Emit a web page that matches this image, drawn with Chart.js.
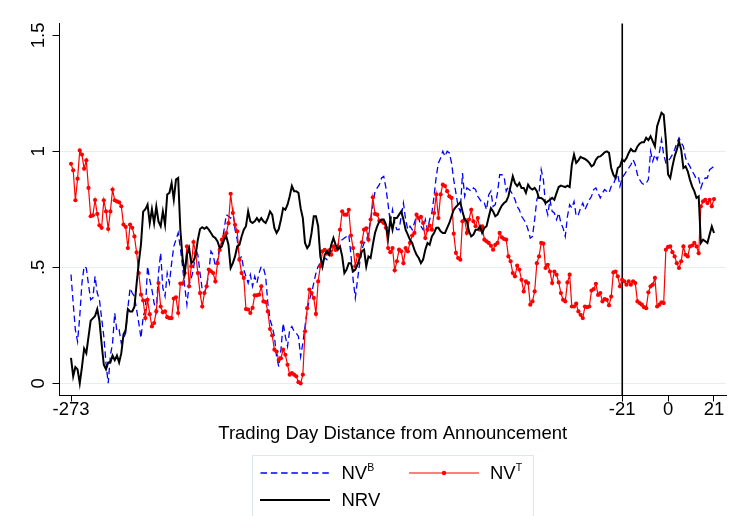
<!DOCTYPE html>
<html>
<head>
<meta charset="utf-8">
<script src="https://cdn.jsdelivr.net/npm/chart.js@4.4.1/dist/chart.umd.min.js"></script>
<style>
  html, body { margin: 0; padding: 0; background: #fff; }
  #wrap { position: relative; width: 738px; height: 516px; overflow: hidden; background: #fff; }
  #chart { position: absolute; left: 0; top: 0; }
  .legendBox { position: absolute; left: 252px; top: 455px; width: 282px; height: 80px; border: 1px solid #dce8ea; box-sizing: border-box; }
  .key { position: absolute; }
  .label { position: absolute; font-family: "Liberation Sans", Arial, sans-serif; font-size: 18.5px; line-height: 18.5px; color: #000; white-space: nowrap; }
  .label sup { font-size: 10.5px; vertical-align: 8px; line-height: 0; }
</style>
</head>
<body>
<div id="wrap">
  <canvas id="chart" width="738" height="516"></canvas>
  <div class="legendBox"></div>
  <svg class="key" style="left:260px;top:468px" width="71" height="10"><line x1="0.5" y1="5" x2="70" y2="5" stroke="#0000ff" stroke-width="1.3" stroke-dasharray="6.5 3.8"/></svg>
  <div class="label" style="left:341.5px;top:464px">NV<sup>B</sup></div>
  <svg class="key" style="left:409px;top:468px" width="71" height="10"><line x1="0" y1="5" x2="70" y2="5" stroke="#ff0000" stroke-width="1.2"/><circle cx="35" cy="5" r="2.2" fill="#ff0000"/></svg>
  <div class="label" style="left:490px;top:464px">NV<sup>T</sup></div>
  <svg class="key" style="left:260px;top:494.5px" width="71" height="10"><line x1="0" y1="5" x2="70" y2="5" stroke="#000" stroke-width="2"/></svg>
  <div class="label" style="left:341.5px;top:490.5px">NRV</div>
</div>
<script>
// trading days run from -273 to 21, one value per day
const firstDay = -273
const announcementDay = -21

const nvbValues = [
    0.469, 0.345, 0.23, 0.18, 0.288, 0.432, 0.504, 0.497, 0.425, 0.36,
    0.368, 0.461, 0.389, 0.36, 0.281, 0.202, 0.087, 0.0, 0.12, 0.173,
    0.303, 0.224, 0.23, 0.173, 0.195, 0.216, 0.324, 0.41, 0.389, 0.375,
    0.317, 0.259, 0.195, 0.288, 0.317, 0.504, 0.446, 0.404, 0.345, 0.31,
    0.475, 0.562,
    0.41, 0.375, 0.475, 0.432, 0.518, 0.59, 0.619, 0.648, 0.583, 0.504,
    0.418, 0.339, 0.425, 0.454, 0.49, 0.576, 0.554, 0.475, 0.404, 0.389,
    0.418, 0.475, 0.569, 0.554, 0.504, 0.533, 0.59, 0.605, 0.662, 0.727,
    0.72, 0.712, 0.748, 0.662, 0.619, 0.533, 0.547, 0.49, 0.461, 0.432,
    0.468, 0.418, 0.461,
    0.432, 0.475, 0.504, 0.497, 0.461, 0.345, 0.274, 0.245, 0.202, 0.115,
    0.072, 0.145, 0.259, 0.202, 0.159, 0.231, 0.245, 0.224, 0.216, 0.202,
    0.115, 0.173, 0.245, 0.317, 0.36, 0.389, 0.432, 0.475, 0.504, 0.518,
    0.526, 0.54, 0.533, 0.562, 0.569, 0.583, 0.59, 0.597, 0.612, 0.619,
    0.626, 0.633, 0.641,
    0.554, 0.446, 0.368, 0.446, 0.518, 0.576, 0.605, 0.612, 0.648, 0.706,
    0.763, 0.828, 0.842, 0.856, 0.885, 0.892, 0.842, 0.77, 0.691, 0.748,
    0.691, 0.662, 0.662, 0.72, 0.777, 0.706, 0.662, 0.677, 0.662, 0.691,
    0.72, 0.712, 0.677, 0.662, 0.706, 0.662, 0.706, 0.734, 0.806, 0.892,
    0.95, 0.971, 1.0,
    0.978, 1.0, 0.993, 0.949, 0.877, 0.82, 0.762, 0.741, 0.906, 0.806,
    0.842, 0.835, 0.828, 0.842, 0.835, 0.806, 0.792, 0.777, 0.777, 0.748,
    0.813, 0.828, 0.762, 0.77, 0.82, 0.899, 0.899, 0.892, 0.828, 0.85,
    0.828, 0.813, 0.792, 0.762, 0.748, 0.72, 0.706, 0.691, 0.662, 0.626,
    0.633, 0.706, 0.792, 0.82,
    0.921, 0.878, 0.763, 0.727, 0.791, 0.741, 0.734, 0.705, 0.734, 0.691,
    0.669, 0.633, 0.72, 0.77, 0.756, 0.784, 0.72, 0.727, 0.756, 0.777,
    0.748, 0.77, 0.791, 0.806, 0.835, 0.842, 0.82, 0.799, 0.82, 0.835,
    0.827, 0.82, 0.849, 0.856, 0.885, 0.899, 0.849, 0.885, 0.899, 0.914,
    0.928, 0.942, 0.964,
    0.942, 0.899, 0.878, 0.863, 0.856, 0.863, 0.878, 1.0, 0.957, 0.986,
    0.964, 0.993, 1.05, 0.986, 0.95, 0.957, 0.971, 0.986, 1.007, 1.036,
    1.058, 1.036, 1.021, 0.971, 0.95, 0.935, 0.914, 0.899, 0.878, 0.885,
    0.842, 0.87, 0.885, 0.885, 0.921, 0.928, 0.935
]

const nvtValues = [
    0.946, 0.918, 0.789, 0.882, 1.004, 0.986, 0.925, 0.961, 0.842, 0.72,
    0.724, 0.79, 0.73, 0.681, 0.67, 0.789, 0.741, 0.665, 0.741, 0.835,
    0.789, 0.784, 0.78, 0.763, 0.684, 0.674, 0.583, 0.684, 0.67, 0.633,
    0.564, 0.475, 0.382, 0.357, 0.281, 0.36, 0.298, 0.245, 0.26, 0.31,
    0.432,
    0.331, 0.306, 0.31, 0.285, 0.281, 0.281, 0.365, 0.371, 0.303, 0.43,
    0.43, 0.475, 0.59, 0.418, 0.504, 0.609, 0.561, 0.475, 0.389, 0.331,
    0.389, 0.418, 0.49, 0.483, 0.475, 0.439, 0.518, 0.575, 0.619, 0.633,
    0.647, 0.69, 0.817, 0.734, 0.683, 0.655, 0.533, 0.475, 0.454, 0.32,
    0.318, 0.303, 0.325,
    0.379, 0.379, 0.382, 0.418, 0.353, 0.35, 0.31, 0.234, 0.206, 0.145,
    0.137, 0.101, 0.108, 0.145, 0.123, 0.08, 0.037, 0.044, 0.037, 0.03,
    0.005, 0.0, 0.037, 0.224, 0.324, 0.404, 0.389, 0.368, 0.299, 0.439,
    0.504, 0.569, 0.575, 0.559, 0.573, 0.554, 0.59, 0.575, 0.588, 0.662,
    0.741, 0.727, 0.727, 0.748,
    0.637, 0.583, 0.504, 0.554, 0.547, 0.608, 0.662, 0.668, 0.619, 0.706,
    0.802, 0.73, 0.727, 0.701, 0.698, 0.691, 0.67, 0.583, 0.565, 0.583,
    0.487, 0.526, 0.576, 0.569, 0.518, 0.583, 0.569, 0.605, 0.637, 0.648,
    0.727, 0.712, 0.717, 0.691, 0.626, 0.662, 0.68, 0.662, 0.734, 0.814,
    0.712, 0.814, 0.856,
    0.85, 0.828, 0.806, 0.799, 0.645, 0.562, 0.54, 0.533, 0.698, 0.706,
    0.648, 0.706, 0.748, 0.698, 0.677, 0.712, 0.662, 0.677, 0.619, 0.612,
    0.605, 0.593, 0.576, 0.597, 0.605, 0.648, 0.629, 0.622, 0.619, 0.547,
    0.526, 0.475, 0.461, 0.507, 0.49, 0.446, 0.396, 0.439, 0.432, 0.339,
    0.353, 0.396, 0.518, 0.547,
    0.605, 0.602, 0.497, 0.511, 0.482, 0.432, 0.482, 0.468, 0.435, 0.389,
    0.36, 0.353, 0.435, 0.468, 0.331, 0.331, 0.343, 0.31, 0.295, 0.281,
    0.331, 0.328, 0.331, 0.4, 0.406, 0.429, 0.381, 0.389, 0.353, 0.363,
    0.36, 0.336, 0.374, 0.478, 0.482, 0.461, 0.418, 0.446, 0.439, 0.425,
    0.439, 0.425, 0.439,
    0.432, 0.353, 0.346, 0.339, 0.328, 0.324, 0.392, 0.418, 0.425, 0.454,
    0.331, 0.339, 0.349, 0.346, 0.576, 0.588, 0.59, 0.565, 0.547, 0.518,
    0.497, 0.526, 0.59, 0.554, 0.547, 0.59, 0.594, 0.605, 0.59, 0.561,
    0.763, 0.784, 0.791, 0.777, 0.791, 0.763, 0.794
]

const nrvValues = [
    0.11, 0.03, 0.07, 0.06, 0.0, 0.07, 0.15, 0.13, 0.2, 0.27,
    0.28, 0.29, 0.32, 0.27, 0.17, 0.08, 0.06, 0.09, 0.09, 0.12,
    0.10, 0.12, 0.09, 0.13, 0.21, 0.23, 0.32, 0.31, 0.31, 0.33,
    0.43, 0.52, 0.6, 0.74, 0.75, 0.77, 0.69, 0.75, 0.69,
    0.762, 0.698, 0.677, 0.741, 0.684, 0.814, 0.821, 0.863, 0.792, 0.878,
    0.885, 0.662, 0.54, 0.475, 0.554, 0.583, 0.518, 0.526, 0.554, 0.619,
    0.665, 0.673, 0.666, 0.673, 0.662, 0.648, 0.633, 0.626, 0.612, 0.583,
    0.59, 0.619, 0.633, 0.597, 0.497, 0.518, 0.547, 0.59, 0.597, 0.633,
    0.662, 0.677, 0.741, 0.698, 0.691,
    0.698, 0.712, 0.698, 0.712, 0.698, 0.691, 0.712, 0.741, 0.727, 0.67,
    0.648, 0.665, 0.706, 0.755, 0.748, 0.77, 0.806, 0.85, 0.828, 0.828,
    0.821, 0.755, 0.712, 0.605, 0.583, 0.597, 0.648, 0.72, 0.72, 0.677,
    0.547, 0.504, 0.554, 0.569, 0.554, 0.597, 0.626, 0.597, 0.576, 0.59,
    0.547, 0.475, 0.49, 0.518,
    0.518, 0.482, 0.49, 0.511, 0.54, 0.569, 0.576, 0.504, 0.547, 0.54,
    0.597, 0.648, 0.677, 0.698, 0.706, 0.706, 0.684, 0.626, 0.706, 0.662,
    0.712, 0.712, 0.727, 0.741, 0.706, 0.662, 0.641, 0.619, 0.605, 0.576,
    0.554, 0.54, 0.518, 0.533, 0.576, 0.605, 0.597, 0.633, 0.648, 0.67,
    0.67, 0.655, 0.648,
    0.648, 0.67, 0.691, 0.72, 0.748, 0.76, 0.77, 0.78, 0.741, 0.706,
    0.698, 0.655, 0.633, 0.641, 0.662, 0.662, 0.677, 0.648, 0.67, 0.677,
    0.717, 0.755, 0.741, 0.72, 0.727, 0.748, 0.766, 0.777, 0.784, 0.806,
    0.85, 0.892, 0.863, 0.85, 0.863, 0.842, 0.842, 0.821, 0.856, 0.842,
    0.835, 0.842, 0.828, 0.799,
    0.799, 0.791, 0.777, 0.784, 0.791, 0.799, 0.791, 0.82, 0.846, 0.852,
    0.849, 0.846, 0.852, 0.846, 0.942, 0.986, 0.95, 0.961, 0.976, 0.971,
    0.967, 0.96, 0.95, 0.935, 0.942, 0.964, 0.976, 0.978, 0.986, 0.996,
    1.0, 0.993, 0.928, 0.899, 0.885, 0.928, 0.935, 0.964, 0.957, 0.971,
    0.993, 1.01, 1.0,
    1.0, 1.021, 1.033, 1.039, 1.039, 1.058, 1.048, 1.065, 1.043, 1.021,
    1.108, 1.137, 1.166, 1.158, 1.048, 0.9, 0.885, 0.935, 0.978, 1.007,
    1.043, 1.007, 0.928, 0.935, 0.914, 0.878, 0.849, 0.828, 0.799, 0.806,
    0.605, 0.619, 0.612, 0.605, 0.641, 0.676, 0.648
]

const xTickValues = [-273, -21, 0, 21]
const yTickValues = [0, 0.5, 1, 1.5]
const yTickLabels = ['0', '.5', '1', '1.5']
const yGridValues = [0, 0.5, 1]

const fontFamily = '"Liberation Sans", Arial, sans-serif'

const toPoints = (values) => values.map((v, i) => ({x: firstDay + i, y: v}))

// announcement line under the data, rotated y labels on the left
const extras = {
    id: 'extras',
    beforeDatasetsDraw(chart) {
        const {ctx, chartArea: {top, bottom}, scales: {x}} = chart
        const px = Math.round(x.getPixelForValue(announcementDay)) + 0.25
        ctx.save()
        ctx.strokeStyle = '#000'
        ctx.lineWidth = 1.6
        ctx.beginPath()
        ctx.moveTo(px, top)
        ctx.lineTo(px, bottom)
        ctx.stroke()
        ctx.restore()
    },
    afterDraw(chart) {
        const {ctx, scales: {y}} = chart
        ctx.save()
        ctx.fillStyle = '#000'
        ctx.font = '18.5px ' + fontFamily
        ctx.textAlign = 'center'
        ctx.textBaseline = 'alphabetic'
        yTickValues.forEach((v, i) => {
            ctx.save()
            ctx.translate(44, y.getPixelForValue(v))
            ctx.rotate(-Math.PI / 2)
            ctx.fillText(yTickLabels[i], 0, 0)
            ctx.restore()
        })
        ctx.restore()
    }
}

const lineConfig = {
    type: 'line',
    data: {
        datasets: [
            {
                label: 'NRV',
                data: toPoints(nrvValues),
                borderColor: '#000000',
                borderWidth: 2,
                pointRadius: 0,
                tension: 0,
                order: 0,
            },
            {
                label: 'NVT',
                data: toPoints(nvtValues),
                borderColor: '#ff0000',
                borderWidth: 1.2,
                pointRadius: 2.1,
                pointBorderWidth: 0,
                pointBackgroundColor: '#ff0000',
                tension: 0,
                order: 1,
            },
            {
                label: 'NVB',
                data: toPoints(nvbValues),
                borderColor: '#0000ff',
                borderWidth: 1.3,
                borderDash: [6.5, 3.8],
                pointRadius: 0,
                tension: 0,
                order: 2,
            },
        ]
    },
    options: {
        responsive: false,
        animation: false,
        layout: {
            padding: {top: 23.5, right: 12, left: 0, bottom: 70.5}
        },
        plugins: {
            legend: {display: false},
            tooltip: {enabled: false},
        },
        scales: {
            x: {
                type: 'linear',
                min: -278.26,
                max: 26.49,
                afterBuildTicks: (scale) => {
                    scale.ticks = xTickValues.map(v => ({value: v}))
                },
                afterFit: (scale) => {
                    scale.height = 50
                },
                border: {display: true, color: '#000', width: 1},
                grid: {
                    drawOnChartArea: false,
                    drawTicks: true,
                    tickLength: 6,
                    tickColor: '#000',
                    tickWidth: 1,
                },
                ticks: {
                    color: '#000',
                    font: {family: fontFamily, size: 18.5},
                    padding: -3,
                    maxRotation: 0,
                    autoSkip: false,
                    callback: (v) => String(v),
                },
                title: {
                    display: true,
                    text: 'Trading Day Distance from Announcement',
                    color: '#000',
                    font: {family: fontFamily, size: 18.5},
                    padding: {top: 0, bottom: 0},
                },
            },
            y: {
                type: 'linear',
                min: -0.0526,
                max: 1.5509,
                afterBuildTicks: (scale) => {
                    scale.ticks = yTickValues.map(v => ({value: v}))
                },
                afterFit: (scale) => {
                    scale.width = 59.5
                },
                border: {display: true, color: '#000', width: 1},
                grid: {
                    color: (context) => {
                        if (context.tick && yGridValues.includes(context.tick.value)) {
                            return '#e6eff0'
                        }
                        return 'rgba(0,0,0,0)'
                    },
                    drawTicks: true,
                    tickLength: 7,
                    tickColor: '#000',
                    tickWidth: 1,
                },
                ticks: {display: false},
            }
        }
    },
    plugins: [extras]
}

new Chart(document.getElementById('chart'), lineConfig)
</script>
</body>
</html>
